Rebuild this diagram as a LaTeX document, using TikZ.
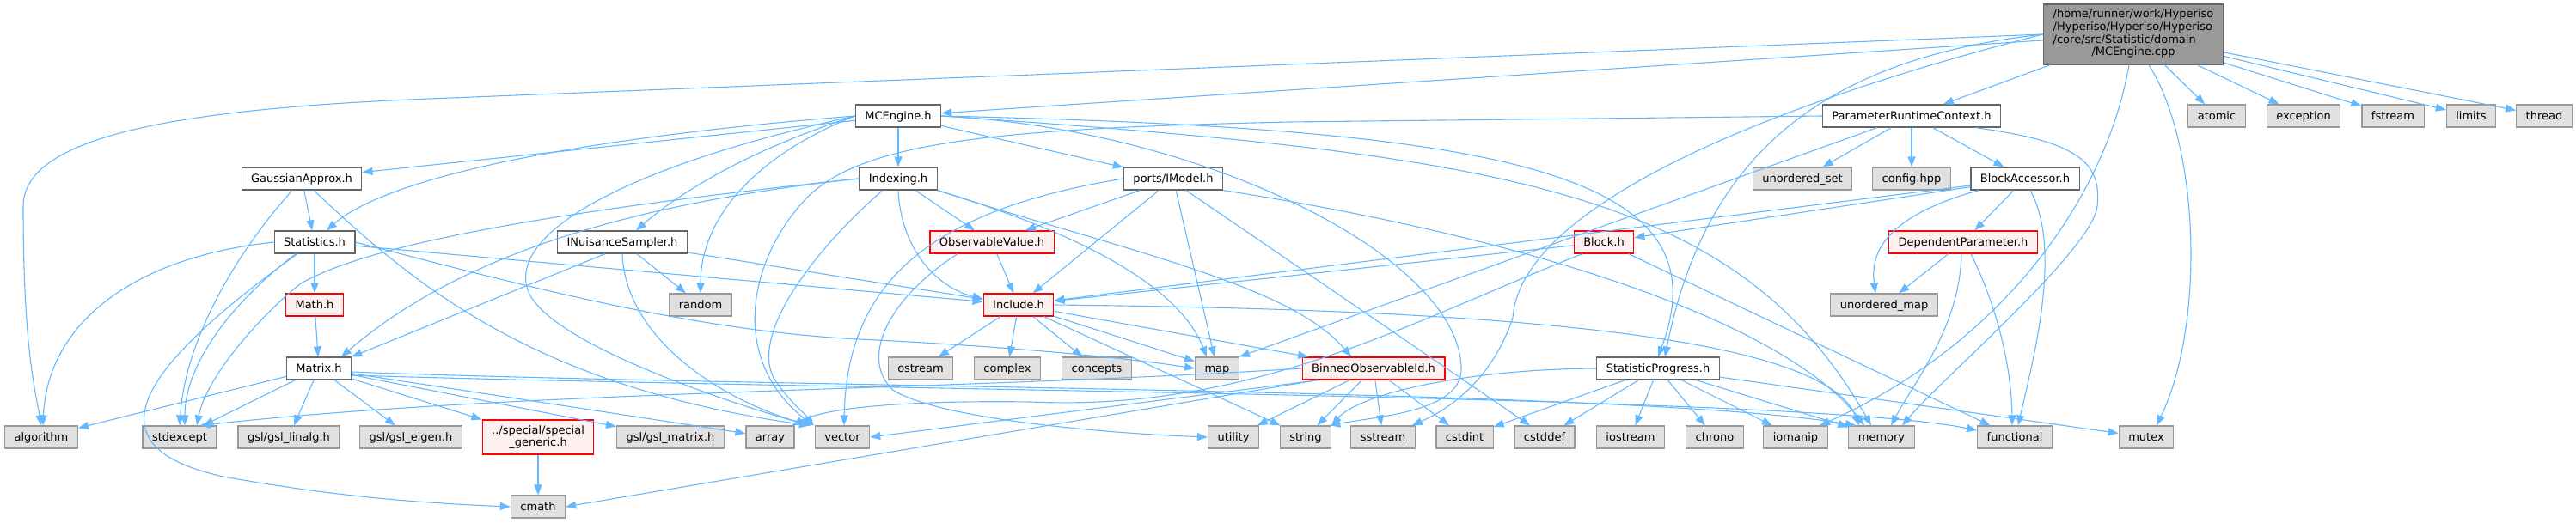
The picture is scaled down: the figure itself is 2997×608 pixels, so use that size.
\documentclass[tikz,border=0pt]{standalone}
\usepackage{fontspec}
\setmainfont{DejaVu Sans}
\usetikzlibrary{arrows.meta}
\definecolor{edgeblue}{HTML}{63B8FF}
\definecolor{sysfill}{HTML}{E0E0E0}
\definecolor{sysline}{HTML}{999999}
\definecolor{fileline}{HTML}{666666}
\definecolor{truncfill}{HTML}{FFF0F0}
\definecolor{rootfill}{HTML}{999999}

\begin{document}
\begin{tikzpicture}[x=1pt, y=-1pt, font=\fontsize{13}{14.7}\selectfont,
  box/.style={rectangle, minimum height=26pt, inner xsep=11pt, inner ysep=0pt,
    text height=9.5pt, text depth=1pt, line width=1.2pt},
  sysfile/.style={box, draw=sysline, fill=sysfill},
  srcfile/.style={box, draw=fileline, fill=white},
  cutfile/.style={box, draw=red, fill=truncfill},
  topfile/.style={rectangle, draw=fileline, fill=rootfill, line width=1.2pt,
    minimum width=209pt, minimum height=70pt, inner sep=0pt},
  dep/.style={draw=edgeblue, line width=1.1pt, -{Triangle[length=12pt,width=9pt]}}]
  \useasboundingbox (0,0) rectangle (2997,608);

  \node[topfile] (root) at (2482,40) {\begin{tabular}{@{}l@{}}/home/runner/work/Hyperiso\\/Hyperiso/Hyperiso/Hyperiso\\/core/src/Statistic/domain\\\multicolumn{1}{@{}c@{}}{/MCEngine.cpp}\end{tabular}};

  \node[srcfile] (mce) at (1045,135) {MCEngine.h};
  \node[srcfile] (prc) at (2224,135) {ParameterRuntimeContext.h};
  \node[sysfile] (atomic) at (2579,135) {atomic};
  \node[sysfile] (exception) at (2680,135) {exception};
  \node[sysfile] (fstream) at (2784,135) {fstream};
  \node[sysfile] (limits) at (2875,135) {limits};
  \node[sysfile] (thread) at (2960,135) {thread};

  \node[srcfile] (gauss) at (351,208) {GaussianApprox.h};
  \node[srcfile] (indexing) at (1045,208) {Indexing.h};
  \node[srcfile] (imodel) at (1365,208) {ports/IModel.h};
  \node[sysfile] (unorderedset) at (2097,208) {unordered\_set};
  \node[sysfile] (config) at (2224,208) {config.hpp};
  \node[srcfile] (blockacc) at (2356,208) {BlockAccessor.h};

  \node[srcfile] (stats) at (366,282) {Statistics.h};
  \node[srcfile] (insampler) at (724,282) {INuisanceSampler.h};
  \node[cutfile] (obsval) at (1154,282) {ObservableValue.h};
  \node[cutfile] (block) at (1866,282) {Block.h};
  \node[cutfile] (depparam) at (2284,282) {DependentParameter.h};

  \node[cutfile] (math) at (366,355) {Math.h};
  \node[sysfile] (random) at (815,355) {random};
  \node[cutfile] (include) at (1185,355) {Include.h};
  \node[sysfile] (unorderedmap) at (2192,355) {unordered\_map};

  \node[srcfile] (matrix) at (371,429) {Matrix.h};
  \node[sysfile] (ostream) at (1071,429) {ostream};
  \node[sysfile] (complex) at (1172,429) {complex};
  \node[sysfile] (concepts) at (1276,429) {concepts};
  \node[sysfile] (map) at (1416,429) {map};
  \node[cutfile] (binned) at (1598,429) {BinnedObservableId.h};
  \node[srcfile] (statprog) at (1929,429) {StatisticProgress.h};

  \node[sysfile] (algorithm) at (48,509) {algorithm};
  \node[sysfile] (stdexcept) at (209,509) {stdexcept};
  \node[sysfile] (gsllinalg) at (336,509) {gsl/gsl\_linalg.h};
  \node[sysfile] (gsleigen) at (478,509) {gsl/gsl\_eigen.h};
  \node[cutfile, text height={}, text depth={}, align=center, minimum height=40pt] (special) at (626,509) {../special/special\\\_generic.h};
  \node[sysfile] (gslmatrix) at (780,509) {gsl/gsl\_matrix.h};
  \node[sysfile] (array) at (896,509) {array};
  \node[sysfile] (vector) at (980,509) {vector};
  \node[sysfile] (utility) at (1435,509) {utility};
  \node[sysfile] (string) at (1519,509) {string};
  \node[sysfile] (sstream) at (1609,509) {sstream};
  \node[sysfile] (cstdint) at (1704,509) {cstdint};
  \node[sysfile] (cstddef) at (1797,509) {cstddef};
  \node[sysfile] (iostream) at (1897,509) {iostream};
  \node[sysfile] (chrono) at (1995,509) {chrono};
  \node[sysfile] (iomanip) at (2089,509) {iomanip};
  \node[sysfile] (memory) at (2189,509) {memory};
  \node[sysfile] (functional) at (2344,509) {functional};
  \node[sysfile] (mutex) at (2497,509) {mutex};

  \node[sysfile] (cmath) at (626,590) {cmath};

  \draw[dep] (root) -- (mce);
  \draw[dep] (root) -- (prc);
  \draw[dep] (root) -- (atomic);
  \draw[dep] (root) -- (exception);
  \draw[dep] (root) -- (fstream);
  \draw[dep] (root) -- (limits);
  \draw[dep] (root) -- (thread);
  \draw[dep] (root.west) -- (500,115) .. controls (200,127) and (27,160) .. (27,240)
    .. controls (27,400) and (40,450) .. (algorithm.north);
  \draw[dep] (root.west) .. controls (2100,70) and (1980,200) .. ([xshift=8pt]statprog.north);
  \draw[dep] (root.west) .. controls (2100,110) and (1770,230) .. (1760,370)
    .. controls (1740,430) and (1700,470) .. ([xshift=-4pt]sstream.north east);
  \draw[dep] ([xshift=-5pt]root.south) .. controls (2450,230) and (2330,400) .. ([xshift=28pt]iomanip.north);
  \draw[dep] ([xshift=18pt]root.south) .. controls (2560,170) and (2565,380) .. ([xshift=12pt]mutex.north);

  \draw[dep] (mce) -- (gauss);
  \draw[dep] (mce.west) .. controls (620,165) and (440,215) .. ([xshift=14pt]stats.north);
  \draw[dep] (mce) -- (indexing);
  \draw[dep] (mce) -- (imodel);
  \draw[dep] (mce.west) .. controls (870,175) and (790,225) .. ([xshift=16pt]insampler.north);
  \draw[dep] (mce.west) .. controls (870,185) and (815,260) .. (random.north);
  \draw[dep] (mce.west) .. controls (700,200) and (590,280) .. (615,340)
    .. controls (640,400) and (850,470) .. ([xshift=-5pt]vector.north west);
  \draw[dep] (mce.east) .. controls (1400,150) and (1700,300) .. (1700,430)
    .. controls (1700,480) and (1600,485) .. ([xshift=-2pt]string.north east);
  \draw[dep] (mce.east) .. controls (1750,150) and (2010,200) .. (statprog.north);
  \draw[dep] (mce.east) .. controls (1750,180) and (2020,220) .. ([xshift=-12pt]memory.north);

  \draw[dep] (prc) -- (unorderedset);
  \draw[dep] (prc) -- (config);
  \draw[dep] (prc) -- (blockacc);
  \draw[dep] (prc.west) -- (1500,142) .. controls (1150,150) and (990,165) .. (930,240)
    .. controls (870,310) and (850,420) .. ([xshift=-2pt]vector.north west);
  \draw[dep] ([xshift=-40pt]prc.south) -- (map.north east);
  \draw[dep] ([xshift=74pt]prc.south) .. controls (2420,165) and (2445,190) .. (2440,240)
    .. controls (2435,290) and (2260,440) .. ([xshift=24pt]memory.north);

  \draw[dep] (gauss) -- (stats);
  \draw[dep] ([xshift=-11pt]gauss.south) .. controls (270,300) and (215,400) .. (stdexcept.north);
  \draw[dep] ([xshift=14pt]gauss.south) .. controls (480,330) and (620,450) .. ([xshift=-6pt]vector.north west);

  \draw[dep] (stats) -- (math);
  \draw[dep] (stats.west) .. controls (150,300) and (55,380) .. ([xshift=2pt]algorithm.north);
  \draw[dep] ([xshift=-22pt]stats.south) .. controls (260,360) and (215,430) .. ([xshift=6pt]stdexcept.north);
  \draw[dep] ([xshift=-20pt]stats.south) .. controls (160,430) and (100,520) .. (260,555)
    .. controls (400,580) and (500,586) .. (cmath.west);
  \draw[dep] (stats) -- (include);
  \draw[dep] (stats.east) .. controls (600,330) and (800,385) .. (1000,395)
    .. controls (1150,402) and (1300,415) .. (map.west);

  \draw[dep] (indexing) -- (obsval);
  \draw[dep] (indexing.south) .. controls (1048,290) and (1090,335) .. ([yshift=7pt]include.west);
  \draw[dep] (indexing.south east) .. controls (1250,270) and (1370,330) .. ([xshift=-12pt]map.north);
  \draw[dep] (indexing.south east) .. controls (1300,290) and (1500,330) .. ([xshift=-26pt]binned.north);
  \draw[dep] ([xshift=-18pt]indexing.south) .. controls (970,270) and (870,380) .. (900,440)
    .. controls (920,470) and (935,480) .. ([xshift=-1pt]vector.north west);
  \draw[dep] (indexing.west) .. controls (700,240) and (520,310) .. ([xshift=26pt]matrix.north);
  \draw[dep] (indexing.west) .. controls (600,250) and (420,290) .. (350,330)
    .. controls (300,370) and (240,440) .. ([xshift=20pt]stdexcept.north);

  \draw[dep] (imodel) -- (obsval);
  \draw[dep] (imodel) -- (include);
  \draw[dep] (imodel) -- (map);
  \draw[dep] (imodel.south east) .. controls (1800,280) and (2080,380) .. ([xshift=-20pt]memory.north);
  \draw[dep] (imodel.west) .. controls (1080,245) and (985,330) .. ([xshift=2pt]vector.north);
  \draw[dep] ([xshift=15pt]imodel.south) -- ([xshift=-17pt]cstddef.north);

  \draw[dep] (insampler) -- (include);
  \draw[dep] (insampler) -- (random);
  \draw[dep] ([xshift=-20pt]insampler.south) -- (matrix.north east);
  \draw[dep] (insampler.south) .. controls (728,400) and (850,470) .. ([xshift=-4pt]vector.north west);

  \draw[dep] (obsval) -- (include);
  \draw[dep] ([xshift=-40pt]obsval.south) .. controls (1030,350) and (1000,420) .. (1040,455)
    .. controls (1100,490) and (1300,505) .. (utility.west);

  \draw[dep] (blockacc) -- (block);
  \draw[dep] (blockacc) -- (include);
  \draw[dep] (blockacc) -- (depparam);
  \draw[dep] ([xshift=-54pt]blockacc.south) .. controls (2200,250) and (2175,290) .. ([xshift=-10pt]unorderedmap.north);
  \draw[dep] ([xshift=6pt]blockacc.south) .. controls (2400,290) and (2365,420) .. ([xshift=4pt]functional.north);

  \draw[dep] (block) -- (include);
  \draw[dep] (block) -- (functional);
  \draw[dep] ([xshift=-25pt]block.south) .. controls (1650,370) and (1460,480) .. (1200,468)
    .. controls (1050,466) and (960,475) .. ([xshift=-3pt]array.north east);

  \draw[dep] (depparam) -- (unorderedmap);
  \draw[dep] ([xshift=-2pt]depparam.south) .. controls (2280,380) and (2230,440) .. ([xshift=11pt]memory.north);
  \draw[dep] ([xshift=9pt]depparam.south) .. controls (2320,350) and (2340,420) .. ([xshift=-3pt]functional.north);

  \draw[dep] (math) -- (matrix);

  \draw[dep] (matrix) -- (algorithm);
  \draw[dep] (matrix) -- (stdexcept);
  \draw[dep] (matrix) -- (gsllinalg);
  \draw[dep] (matrix) -- (gsleigen);
  \draw[dep] (matrix) -- (special);
  \draw[dep] (matrix) -- (gslmatrix);
  \draw[dep] (matrix) -- (array);
  \draw[dep] ([yshift=-4pt]matrix.east) .. controls (900,452) and (1900,452) .. ([xshift=-30pt]memory.north);
  \draw[dep] ([yshift=-8pt]matrix.east) .. controls (1000,455) and (2100,460) .. ([yshift=8pt]functional.west);

  \draw[dep] (special) -- (cmath);

  \draw[dep] (include) -- (ostream);
  \draw[dep] (include) -- (complex);
  \draw[dep] (include) -- (concepts);
  \draw[dep] (include) -- (map);
  \draw[dep] (include.east) .. controls (1700,360) and (2120,385) .. ([xshift=-26pt]memory.north);
  \draw[dep] (include) -- (string);
  \draw[dep] (include) -- (binned);

  \draw[dep] (binned) -- (string);
  \draw[dep] (binned) -- (sstream);
  \draw[dep] (binned) -- (cstdint);
  \draw[dep] ([xshift=18pt]binned.south west) -- (cmath.east);
  \draw[dep] ([xshift=20pt]binned.south west) -- (vector.east);
  \draw[dep] (binned) -- (utility);
  \draw[dep] (binned.west) .. controls (1100,455) and (600,455) .. ([xshift=-20pt]stdexcept.north east);

  \draw[dep] (statprog.west) .. controls (1700,430) and (1580,460) .. (string.north east);
  \draw[dep] (statprog) -- (cstdint);
  \draw[dep] (statprog) -- (cstddef);
  \draw[dep] (statprog) -- (iostream);
  \draw[dep] (statprog) -- (chrono);
  \draw[dep] (statprog) -- (iomanip);
  \draw[dep] (statprog) -- (memory);
  \draw[dep] (statprog) -- (mutex);
\end{tikzpicture}
\end{document}
